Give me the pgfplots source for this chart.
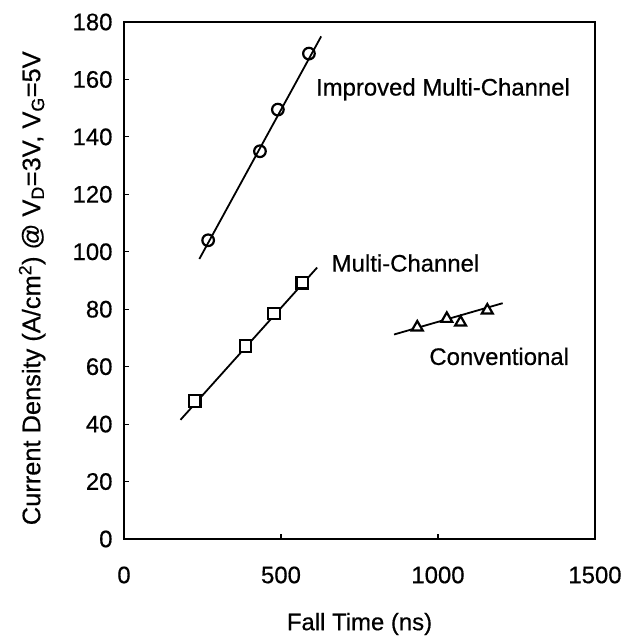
\documentclass[border=0pt]{standalone}
\usepackage{pgfplots}
\pgfplotsset{compat=1.18}
\usepackage{fontspec}
\setmainfont[FakeBold=0.5]{Liberation Sans}
\begin{document}
\begin{tikzpicture}[x=1bp,y=1bp]
\useasboundingbox (-124bp,-100bp) rectangle (510bp,539bp);
\begin{axis}[
  at={(0,0)}, anchor=south west,
  scale only axis, width=471bp, height=517bp,
  xmin=0, xmax=1500, ymin=0, ymax=180,
  xtick={0,500,1000,1500}, ytick={0,20,...,180},
  tick pos=left, tick align=inside,
  major tick length=5bp,
  axis line style={draw=black, line width=2.5bp},
  every tick/.style={draw=black, line width=1.2bp},
  /pgf/number format/assume math mode=true,
  /pgf/number format/set thousands separator={},
  font=\fontsize{24}{28}\selectfont,
  xticklabel style={yshift=-24bp},
  yticklabel style={xshift=-8bp},
  xlabel={Fall Time (ns)},
  ylabel={Current Density (A/cm\textsuperscript{2}) @ V\textsubscript{D}=3V, V\textsubscript{G}=5V},
  xlabel style={at={(axis description cs:0.5,0)}, anchor=center, yshift=-85bp},
  ylabel style={at={(axis description cs:-0.195,0.485)}, anchor=center, font=\fontsize{25.5}{30}\selectfont},
  clip=false,
]
% fit lines
\addplot[black, line width=1.8bp] coordinates {(240,97.5) (628,175)};
\addplot[black, line width=1.8bp] coordinates {(180,41.5) (615,94.5)};
\addplot[black, line width=1.8bp] coordinates {(860,71.2) (1206,82.1)};
% data
\addplot[only marks, mark=o, mark size=5.8bp, mark options={line width=2.2bp, fill=white, draw=black}]
  coordinates {(268,104) (433,135) (490,149.5) (589,169)};
\addplot[only marks, mark=square*, mark size=5.8bp, mark options={line width=2.2bp, fill=white, draw=black}]
  coordinates {(225,48) (387,67.2) (478,78.5) (568,89.2)};
\addplot[only marks, mark=triangle*, mark size=6.3bp, mark options={line width=2.2bp, fill=white, draw=black}]
  coordinates {(934,73.7) (1028,76.7) (1072,75.4) (1157,79.6)};
\node[anchor=base west, inner sep=0pt] at (axis cs:611,154.4) {Improved Multi-Channel};
\node[anchor=base west, inner sep=0pt] at (axis cs:661,93.1) {Multi-Channel};
\node[anchor=base west, inner sep=0pt] at (axis cs:972,60.6) {Conventional};
\end{axis}
\end{tikzpicture}
\end{document}
